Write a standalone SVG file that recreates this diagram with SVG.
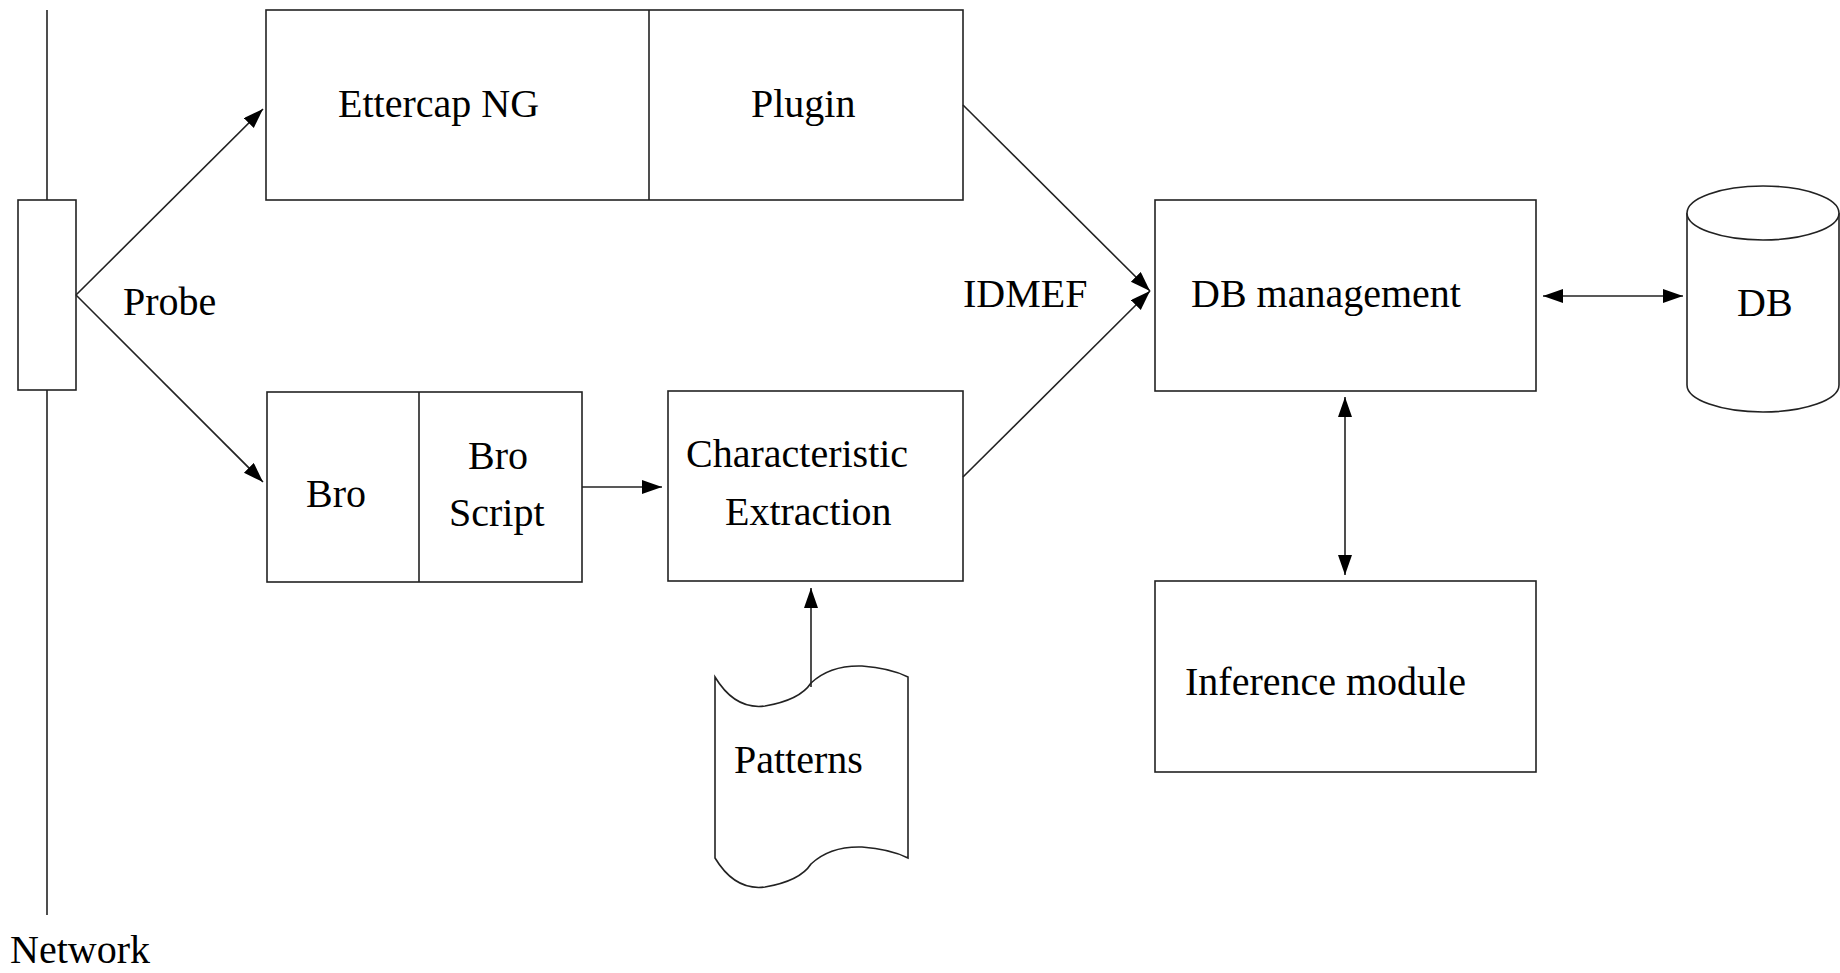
<svg xmlns="http://www.w3.org/2000/svg" width="1840" height="973" viewBox="0 0 1840 973">
<style>
.s{fill:#fff;stroke:#222;stroke-width:1.6}
.l{fill:none;stroke:#222;stroke-width:1.6}
.t{font-family:"Liberation Serif","Times New Roman",serif;font-size:40px;fill:#000}
.c{stroke:#222;stroke-width:1.6;fill:none}
</style>
<defs>
<marker id="ah" markerUnits="userSpaceOnUse" markerWidth="22" markerHeight="16" refX="20" refY="7" orient="auto-start-reverse">
<path d="M0,0 L20,7 L0,14 Z" fill="#000"/>
</marker>
</defs>
<g id="network">
<line class="l" x1="47" y1="10" x2="47" y2="200"/>
<line class="l" x1="47" y1="390" x2="47" y2="915"/>
<text class="t" x="10" y="963">Network</text>
</g>
<g id="probe">
<rect class="s" x="18" y="200" width="58" height="190"/>
<text class="t" x="123" y="315">Probe</text>
</g>
<g id="ettercap">
<rect class="s" x="266" y="10" width="697" height="190"/>
<line class="l" x1="649" y1="10" x2="649" y2="200"/>
<text class="t" x="338" y="117">Ettercap NG</text>
<text class="t" x="751" y="117">Plugin</text>
</g>
<g id="bro">
<rect class="s" x="267" y="392" width="315" height="190"/>
<line class="l" x1="419" y1="392" x2="419" y2="582"/>
<text class="t" x="306" y="507">Bro</text>
<text class="t" x="468" y="469">Bro</text>
<text class="t" x="449" y="526">Script</text>
</g>
<g id="characteristic">
<rect class="s" x="668" y="391" width="295" height="190"/>
<text class="t" x="686" y="467">Characteristic</text>
<text class="t" x="725" y="525">Extraction</text>
</g>
<g id="patterns">
<path class="s" d="M715,677 Q735,710 765,706 Q800,700 811,683 Q830,665 862,666 Q890,668 908,677 L908,858 Q890,849 862,847 Q830,846 811,864 Q800,881 765,887 Q735,891 715,858 Z"/>
<text class="t" x="734" y="773">Patterns</text>
</g>
<g id="idmef-label">
<text class="t" x="963" y="307">IDMEF</text>
</g>
<g id="dbmanagement">
<rect class="s" x="1155" y="200" width="381" height="191"/>
<text class="t" x="1191" y="307">DB management</text>
</g>
<g id="inference">
<rect class="s" x="1155" y="581" width="381" height="191"/>
<text class="t" x="1185" y="695">Inference module</text>
</g>
<g id="db">
<path class="s" d="M1687,213 L1687,385 A76,27 0 0 0 1839,385 L1839,213"/>
<ellipse class="s" cx="1763" cy="213" rx="76" ry="27"/>
<text class="t" x="1737" y="316">DB</text>
</g>
<g id="connectors">
<line class="c" x1="76" y1="295" x2="263" y2="109" marker-end="url(#ah)"/>
<line class="c" x1="76" y1="295" x2="263" y2="482" marker-end="url(#ah)"/>
<line class="c" x1="582" y1="487" x2="662" y2="487" marker-end="url(#ah)"/>
<line class="c" x1="963" y1="105" x2="1150" y2="291" marker-end="url(#ah)"/>
<line class="c" x1="963" y1="477" x2="1150" y2="291" marker-end="url(#ah)"/>
<line class="c" x1="1543" y1="296" x2="1683" y2="296" marker-start="url(#ah)" marker-end="url(#ah)"/>
<line class="c" x1="1345" y1="397" x2="1345" y2="575" marker-start="url(#ah)" marker-end="url(#ah)"/>
<line class="c" x1="811" y1="687" x2="811" y2="588" marker-end="url(#ah)"/>
</g>
</svg>
